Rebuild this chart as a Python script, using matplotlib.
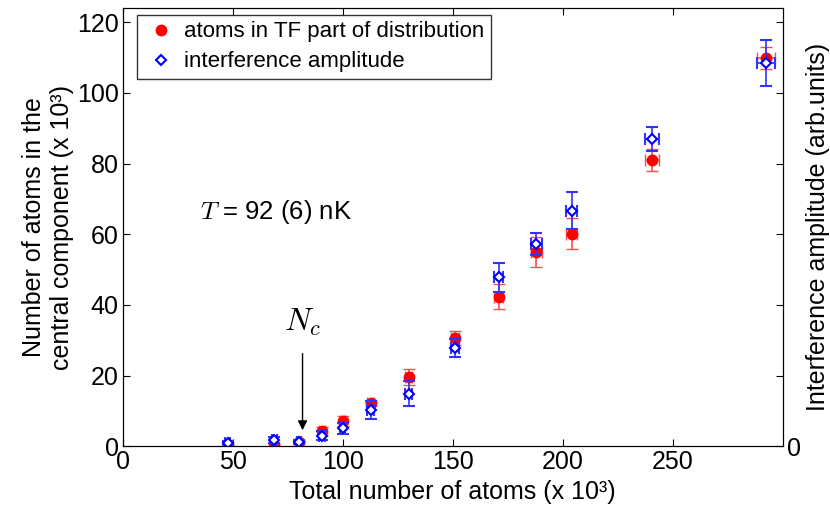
import numpy as np
import matplotlib
matplotlib.use("Agg")
import matplotlib.pyplot as plt
from matplotlib.lines import Line2D

plt.rcParams["font.family"] = ["Liberation Sans", "DejaVu Sans"]
plt.rcParams["mathtext.fontset"] = "cm"

# total atom number (x 10^3)
n_total = [47.6, 68.9, 80.2, 90.5, 99.9, 112.6, 130.0, 151.2, 170.8, 188.0, 204.0, 240.6, 292.3]
n_total_err = [1.0, 1.0, 1.0, 1.2, 1.2, 1.5, 1.5, 1.8, 2.0, 2.5, 2.5, 3.0, 4.0]

# atoms in TF part (x 10^3)
n_tf = [0.1, 0.3, 1.2, 4.3, 7.1, 12.1, 19.5, 30.7, 42.3, 54.9, 60.2, 81.0, 110.0]
n_tf_err = [0.6, 0.6, 0.6, 1.2, 1.5, 0.8, 2.3, 2.0, 3.5, 4.2, 4.5, 3.0, 3.1]

# interference amplitude (arb. units, same scale)
amp = [1.0, 1.7, 1.1, 3.0, 5.0, 10.2, 14.9, 27.8, 47.8, 57.2, 66.7, 86.9, 108.6]
amp_err = [0.6, 0.8, 0.6, 1.3, 1.6, 2.6, 3.5, 2.5, 4.1, 3.2, 5.2, 3.4, 6.5]

fs = 18

fig = plt.figure(figsize=(8.3, 5.14), dpi=100)
ax = fig.add_axes([0.148, 0.132, 0.795, 0.852])

ax.errorbar(n_total, n_tf, yerr=n_tf_err, xerr=n_total_err, fmt="o", color="red",
            ecolor=(1, 0.3, 0.3), elinewidth=1.2, capsize=4, markersize=7.5, zorder=3)
ax.errorbar(n_total, amp, yerr=amp_err, xerr=n_total_err, fmt="D", color="blue",
            mfc="white", mec="blue", mew=1.5, ecolor=(0.2, 0.2, 1.0), elinewidth=1.2,
            capsize=4, markersize=5.5, zorder=4)

ax.set_xlim(0, 300)
ax.set_ylim(0, 124)
ax.set_xticks([0, 50, 100, 150, 200, 250])
ax.set_yticks([0, 20, 40, 60, 80, 100, 120])
ax.tick_params(direction="in", labelsize=fs, top=True, length=5, pad=3)
ax.set_xlabel("Total number of atoms (x 10³)", fontsize=fs, labelpad=4)
ax.set_ylabel("Number of atoms in the\ncentral component (x 10³)", fontsize=fs, labelpad=2)

ax2 = ax.twinx()
ax2.set_ylim(0, 124)
ax2.set_yticks([0, 20, 40, 60, 80, 100, 120])
ax2.set_yticklabels(["0", "", "", "", "", "", ""])
ax2.tick_params(direction="in", labelsize=fs, length=5, pad=3)
ax2.set_ylabel("Interference amplitude (arb.units)", fontsize=fs, labelpad=4)

ax.text(35, 66.3, "$T$ = 92 (6) nK", fontsize=fs + 0.5, va="center", ha="left")
ax.annotate("$N_c$", xy=(81.7, 4.5), xytext=(81.7, 30.5), fontsize=23, ha="center", va="bottom",
            arrowprops=dict(arrowstyle="-|>", color="black", lw=1.0, mutation_scale=14,
                            shrinkA=9, shrinkB=0))

handles = [
    Line2D([], [], marker="o", color="red", ls="none", markersize=7.5),
    Line2D([], [], marker="D", color="blue", mfc="white", mew=1.5, ls="none", markersize=5),
]
leg = ax.legend(handles, ["atoms in TF part of distribution", "interference amplitude"],
                loc="upper left", fontsize=16, frameon=True, fancybox=False,
                edgecolor="black", borderpad=0.3, handletextpad=0.3, labelspacing=0.4,
                handlelength=1.5, bbox_to_anchor=(0.022, 0.985), borderaxespad=0)
leg.get_frame().set_linewidth(1.0)

fig.savefig("out.png", dpi=100)
